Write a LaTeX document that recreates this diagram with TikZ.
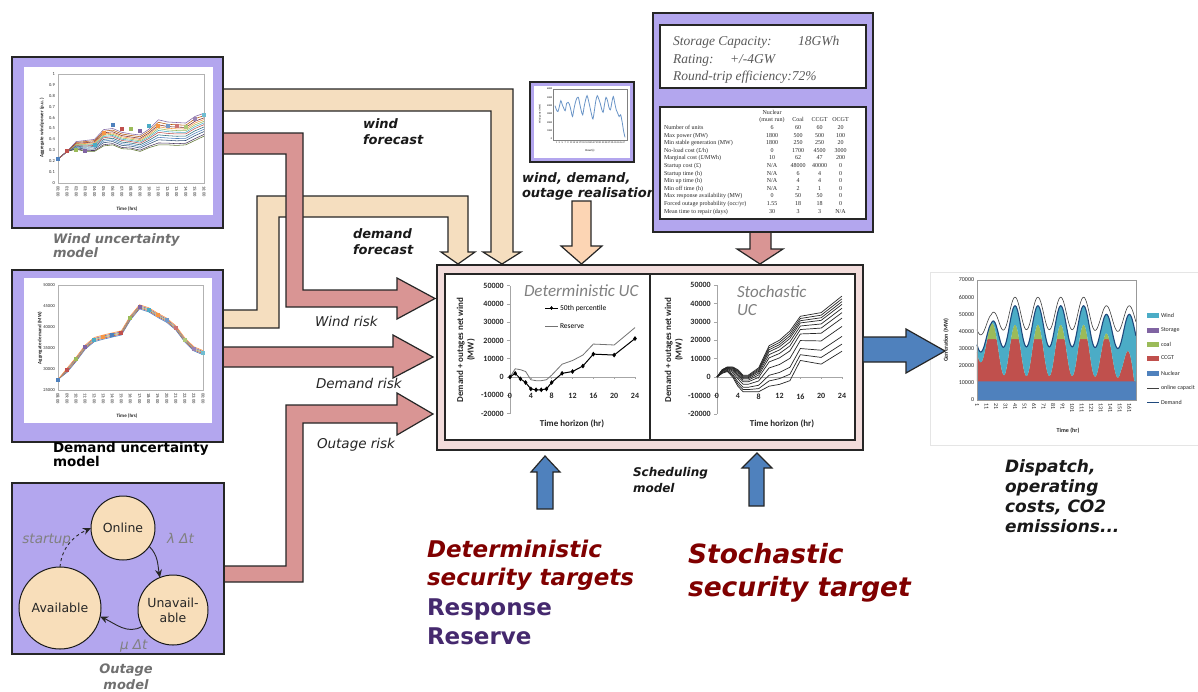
\documentclass[tikz,border=0pt]{standalone}
\usepackage{fontspec}
\usepackage{array}
\usetikzlibrary{arrows.meta,plotmarks}
\newfontfamily\dejavu{DejaVu Sans}[ItalicFont={DejaVu Sans Oblique},BoldFont={DejaVu Sans Bold},BoldItalicFont={DejaVu Sans Bold Oblique}]
\newfontfamily\carl{Carlito}
\newfontfamily\libser{Liberation Serif}
\definecolor{purp}{HTML}{B3A6EE}
\definecolor{beige}{HTML}{F5DEBF}
\definecolor{peach}{HTML}{FCD5B4}
\definecolor{pinkarr}{HTML}{D99594}
\definecolor{mainbox}{HTML}{F2DCDB}
\definecolor{circ}{HTML}{F8DEBA}
\definecolor{bluearr}{HTML}{4F81BD}
\definecolor{darkred}{HTML}{800000}
\definecolor{deeppurple}{HTML}{45296E}
\definecolor{capgray}{HTML}{707070}
\definecolor{pA}{HTML}{4F81BD}
\definecolor{pB}{HTML}{C0504D}
\definecolor{pC}{HTML}{9BBB59}
\definecolor{pD}{HTML}{8064A2}
\definecolor{pE}{HTML}{4BACC6}
\definecolor{pF}{HTML}{F79646}
\definecolor{pG}{HTML}{2C4D75}
\definecolor{pH}{HTML}{772C2A}
\definecolor{pI}{HTML}{5F7530}
\definecolor{pJ}{HTML}{4D3B62}
\definecolor{pK}{HTML}{276A7C}
\definecolor{pL}{HTML}{B65708}
\definecolor{pM}{HTML}{729ACA}
\definecolor{pN}{HTML}{CD7371}
\definecolor{pO}{HTML}{AFC97A}
\definecolor{pP}{HTML}{9983B5}
\definecolor{pQ}{HTML}{6FBDD1}
\definecolor{xlnavy}{HTML}{1F497D}
\begin{document}
\begin{tikzpicture}[x=1pt,y=-1pt,
  every node/.style={inner sep=0pt,outer sep=0pt},
  edge/.style={draw=black!85,line width=1.2pt,line join=miter},
  barr/.style={edge,fill=beige},
  parr/.style={edge,fill=pinkarr},
  blarr/.style={edge,fill=bluearr},
  bix/.style={font=\dejavu\bfseries\itshape\fontsize{13}{15}\selectfont,anchor=base west,text=black!90},
  riskl/.style={font=\dejavu\itshape\fontsize{13.5}{15}\selectfont,anchor=base west,text=black!85},
  capg/.style={font=\dejavu\bfseries\itshape\fontsize{13}{15}\selectfont,anchor=base west,text=capgray},
  state/.style={circle,draw=black!90,line width=1pt,fill=circ,font=\dejavu\fontsize{12.5}{15}\selectfont,text=black!85,align=center},
  gtxt/.style={font=\dejavu\itshape\fontsize{13.5}{15}\selectfont,text=black!50},
  smalltxt/.style={font=\carl\fontsize{4.5}{5}\selectfont,text=black!85},
  smallbold/.style={font=\carl\bfseries\fontsize{5}{6}\selectfont,text=black!85},
  chartnum/.style={font=\carl\bfseries\fontsize{8}{9}\selectfont,text=black!85},
  chartlab/.style={font=\carl\bfseries\fontsize{9}{10.5}\selectfont,text=black!85},
  ctitle/.style={font=\carl\itshape\fontsize{17}{19}\selectfont,text=black!50,anchor=base west},
  disp/.style={font=\carl\fontsize{6}{7}\selectfont,text=black!85},
  stor/.style={font=\libser\itshape\fontsize{13.5}{15}\selectfont,text=black!65,anchor=base west},
  bigdr/.style={font=\dejavu\bfseries\itshape\fontsize{23}{26}\selectfont,text=darkred,anchor=base west},
  bigpu/.style={font=\dejavu\bfseries\fontsize{23}{26}\selectfont,text=deeppurple,anchor=base west},
  bigst/.style={font=\dejavu\bfseries\itshape\fontsize{26.5}{30}\selectfont,text=darkred,anchor=base west},
  tip/.style={-{Stealth[length=8pt,width=7pt]}}
]
\useasboundingbox (0,0) rectangle (1198,691);
\fill[white] (0,0) rectangle (1198,691);

% ---------- block arrows ----------
\draw[barr] (215,89) -- (513,89) -- (513,252) -- (521,252) -- (502,264) -- (483,252) -- (491,252) -- (491,111) -- (215,111) -- cycle;
\draw[barr] (215,310) -- (257,310) -- (257,196) -- (468,196) -- (468,252) -- (475,252) -- (458,264) -- (441,252) -- (448,252) -- (448,217) -- (279,217) -- (279,328) -- (215,328) -- cycle;
\draw[parr] (215,133) -- (303,133) -- (303,290) -- (397,290) -- (397,278) -- (435,298.5) -- (397,319) -- (397,307) -- (286,307) -- (286,154) -- (215,154) -- cycle;
\draw[parr] (215,347) -- (393,347) -- (393,335) -- (433,357) -- (393,378) -- (393,367) -- (215,367) -- cycle;
\draw[parr] (215,566) -- (286,566) -- (286,405) -- (397,405) -- (397,393) -- (433,414) -- (397,435) -- (397,423) -- (303,423) -- (303,582) -- (215,582) -- cycle;
\draw[edge,fill=peach] (572,201) -- (591,201) -- (591,246) -- (602,246) -- (581.5,264) -- (561,246) -- (572,246) -- cycle;
\draw[parr] (750,228) -- (771,228) -- (771,249) -- (783,249) -- (760,264) -- (737,249) -- (750,249) -- cycle;
\draw[blarr] (537,509) -- (537,472) -- (531,472) -- (545,456) -- (560,472) -- (553,472) -- (553,509) -- cycle;
\draw[blarr] (749,506) -- (749,468) -- (742,468) -- (757,453) -- (772,468) -- (764,468) -- (764,506) -- cycle;

% ---------- arrow labels ----------
\node[bix] (wf1) at (363,128) {wind};
\node[bix] (wf2) at (363,144) {forecast};
\node[bix] (df1) at (353,238) {demand};
\node[bix] (df2) at (353,254) {forecast};
\node[riskl] (wr) at (315,326) {Wind risk};
\node[riskl] (dr) at (316,388) {Demand risk};
\node[riskl] (orisk) at (317,448) {Outage risk};
\node[bix] (rl1) at (522,182) {wind, demand,};
\node[bix] (rl2) at (522,197) {outage realisation};

% ---------- wind uncertainty model ----------
\draw[edge,fill=purp] (12,57) rectangle (223,228);
\fill[white] (24,67) rectangle (213,215);
\begin{scope}[shift={(58pt,-183pt)},x=9.125pt,y=109pt]
  \draw[gray!60,line width=0.4pt] (0,0) rectangle (16,1);
  \foreach \v in {0,0.1,0.2,0.3,0.4,0.5,0.6,0.7,0.8,0.9,1}
    \node[smalltxt,anchor=east] at (-0.35,\v) {\v};
  \foreach \h [count=\i from 0] in {00,01,02,03,04,05,06,07,08,09,10,11,12,13,14,15,16}
    \node[smalltxt,rotate=-90,anchor=west] at (\i,-0.03) {\h:00};
  \foreach \k/\c in {-1/pI,-0.85/pJ,-0.6/pG,-0.4/pA,-0.2/pK,0/pB,0.15/pE,0.3/pC,0.45/pF,0.6/pH,0.8/pL,1/pD}
    \draw[\c,line width=0.55pt] (0,0.22) \foreach \t/\m/\s in {1/0.29/0,2/0.345/0.035,3/0.34/0.05,4/0.345/0.055,5/0.415/0.075,6/0.425/0.075,7/0.39/0.075,8/0.38/0.07,9/0.365/0.075,10/0.41/0.085,11/0.465/0.115,12/0.455/0.105,13/0.45/0.105,14/0.45/0.1,15/0.5/0.11,16/0.535/0.105} { -- (\t,{\m+\k*\s}) };
  \foreach \t/\v/\c in {0/0.22/pA,1/0.29/pB,2/0.30/pC,3/0.29/pD,4/0.35/pE,5/0.46/pF,6/0.53/pA,7/0.50/pB,8/0.50/pC,9/0.48/pD,10/0.52/pE,11/0.52/pF,12/0.52/pM,13/0.52/pN,14/0.51/pO,15/0.59/pP,16/0.62/pQ}
    \node[fill=\c,minimum size=4pt] at (\t,\v) {};
\end{scope}
\node[smallbold] (wtime) at (127,209) {Time (hrs)};
\node[smallbold,rotate=90] (wylab) at (42,128) {Aggregate wind power (p.u.)};
\node[capg] (wc1) at (53,243) {Wind uncertainty};
\node[capg] (wc2) at (53,257) {model};

% ---------- demand uncertainty model ----------
\draw[edge,fill=purp] (12,270) rectangle (223,442);
\fill[white] (24,278) rectangle (212,423);
\begin{scope}[shift={(58pt,-390pt)},x=9.06pt,y=4.2pt]
  \draw[gray!60,line width=0.4pt] (0,0) rectangle (16,25);
  \foreach \v/\l in {0/25000,5/30000,10/35000,15/40000,20/45000,25/50000}
    \node[smalltxt,anchor=east] at (-0.35,\v) {\l};
  \foreach \h [count=\i from 0] in {08,09,10,11,12,13,14,15,16,17,18,19,20,21,22,23,00}
    \node[smalltxt,rotate=-90,anchor=west] at (\i,-0.8) {\h:00};
  \foreach \o/\c in {-0.5/pA,-0.25/pB,0/pC,0.25/pD,0.5/pF}
    \draw[\c,line width=0.6pt] (0,2.5) \foreach \t/\v in {1/29.7,2/32.3,3/35.2,4/37.0,5/37.6,6/38.1,7/38.6,8/42.2,9/44.8,10/44.1,11/42.8,12/41.6,13/39.8,14/36.9,15/34.8,16/33.9} { -- (\t,{\v-25+\o}) };
  \foreach \t/\v/\c in {0/27.5/pA,1/29.7/pB,2/32.3/pC,3/35.2/pD,4/37.0/pE,5/37.6/pF,6/38.1/pA,7/38.6/pB,8/42.2/pC,9/44.8/pD,10/44.1/pE,11/42.8/pF,12/41.6/pM,13/39.8/pN,14/36.9/pO,15/34.8/pP,16/33.9/pQ}
    \node[fill=\c,minimum size=4pt] at (\t,{\v-25}) {};
\end{scope}
\node[smallbold] (dtime) at (127,416) {Time (hrs)};
\node[smallbold,rotate=90] (dylab) at (40,338) {Aggregate demand (MW)};
\node[font=\dejavu\bfseries\fontsize{13.5}{15}\selectfont,anchor=base west] (dc1) at (53,452) {Demand uncertainty};
\node[font=\dejavu\bfseries\fontsize{13.5}{15}\selectfont,anchor=base west] (dc2) at (53,466) {model};

% ---------- outage model ----------
\draw[edge,fill=purp] (12,483) rectangle (224,654);
\node[state,minimum size=64pt] (online) at (123,528) {Online};
\node[state,minimum size=82pt] (avail) at (60,608) {Available};
\node[state,minimum size=70pt] (unav) at (173,610) {Unavail-\\able};
\draw[tip,dashed,line width=0.9pt,black!85] (avail.north) to[out=85,in=205] (online.west);
\draw[tip,line width=0.9pt,black!85] (online.-35) to[out=-45,in=100] (unav.112);
\draw[tip,line width=0.9pt,black!85] (unav.208) to[out=-150,in=-25] (avail.-12);
\node[gtxt,anchor=base east] (su) at (71,543) {startup};
\node[gtxt,anchor=base west] (lam) at (167,543) {λ Δt};
\node[gtxt,anchor=base west] (mu) at (120,649) {μ Δt};
\node[capg,anchor=base] (oc1) at (126,673) {Outage};
\node[capg,anchor=base] (oc2) at (126,689) {model};

% ---------- scheduling model ----------
\draw[edge,fill=mainbox] (437,265) rectangle (863,450);
\draw[edge,fill=white] (445,274) rectangle (650,440);
\draw[edge,fill=white] (650,274) rectangle (855,440);
\begin{scope}[shift={(510pt,-377pt)},x=5.208pt,y=1.83pt]
  \draw[gray!70,line width=0.5pt] (0,-20) -- (0,50);
  \foreach \v/\l in {50/50000,40/40000,30/30000,20/20000,10/10000,0/0,-10/-10000,-20/-20000}{
    \draw[gray!70,line width=0.5pt] (-0.6,\v) -- (0,\v);
    \node[chartnum,anchor=east] at (-1.2,\v) {\l};}
  \draw[gray!70,line width=0.5pt] (0,0) -- (24,0);
  \foreach \t in {0,4,...,24}{
    \draw[gray!70,line width=0.5pt] (\t,0) -- (\t,-1.2);
    \node[chartnum] at (\t,-10.5) {\t};}
  \draw[black!55,line width=0.8pt] (0,0) -- (1,4.5) -- (2,4) -- (3,3) -- (4,-1.5) -- (5,-2) -- (6,-2) -- (7,-1.5) -- (8,1) -- (10,7) -- (12,9) -- (14,12) -- (16,18) -- (20,17.5) -- (24,27);
  \draw[black,line width=1pt] plot[mark=diamond*,mark size=1.6pt] coordinates {(0,0) (1,2) (2,-1) (3,-3) (4,-6.5) (5,-7) (6,-7) (7,-6.5) (8,-3) (10,2) (12,3) (14,6) (16,12.5) (20,12) (24,21)};
\end{scope}
\node[ctitle] (dtitle) at (524,296) {Deterministic UC};
\draw[black,line width=1pt] (545,308) -- (558,308);
\path plot[mark=diamond*,mark size=1.6pt] coordinates {(551.5,308)};
\node[font=\carl\fontsize{7.5}{9}\selectfont,anchor=west] (lg1) at (560,308) {50th percentile};
\draw[black!55,line width=0.8pt] (545,326) -- (558,326);
\node[font=\carl\fontsize{7.5}{9}\selectfont,anchor=west] (lg2) at (560,326) {Reserve};
\node[chartlab,rotate=90,align=center] (dylab2) at (466,350) {Demand + outages net wind\\(MW)};
\node[chartlab] (dtx) at (572,424) {Time horizon (hr)};

\begin{scope}[shift={(717pt,-377pt)},x=5.208pt,y=1.84pt]
  \draw[gray!70,line width=0.5pt] (0,-20) -- (0,50);
  \foreach \v/\l in {50/50000,40/40000,30/30000,20/20000,10/10000,0/0,-10/-10000,-20/-20000}{
    \draw[gray!70,line width=0.5pt] (-0.6,\v) -- (0,\v);
    \node[chartnum,anchor=east] at (-1.2,\v) {\l};}
  \draw[gray!70,line width=0.5pt] (0,0) -- (24,0);
  \foreach \t in {0,4,...,24}{
    \draw[gray!70,line width=0.5pt] (\t,0) -- (\t,-1.2);
    \node[chartnum] at (\t,-10.5) {\t};}
  \foreach \w in {0,0.13,0.27,0.45,0.6,0.7,0.78,0.85,0.9,0.95,1}
    \draw[black!85,line width=0.7pt] (0,0) \foreach \t/\b/\u in {1/2/4,2/3/5.5,3/0/5.5,4/-5/4,5/-8/1,6/-8/1,8/-8/5,10/-5/17,12/-4/20,14/-2/25,16/9/33,20/7/35,24/14/44} { -- (\t,{\b+\w*(\u-\b)}) };
\end{scope}
\node[ctitle] (st1t) at (737,297) {Stochastic};
\node[ctitle] (st2t) at (737,315) {UC};
\node[chartlab,rotate=90,align=center] (sylab) at (674,350) {Demand + outages net wind\\(MW)};
\node[chartlab] (stx) at (782,424) {Time horizon (hr)};

% ---------- top small chart ----------
\draw[edge,fill=purp] (530,82) rectangle (634,162);
\fill[white] (534,86) rectangle (630,158);
\draw[gray,line width=0.8pt] (553,89) rectangle (627,140);
\begin{scope}[shift={(555pt,-139pt)},x=1.458pt,y=8.33pt]
  \draw[pA!85,line width=0.8pt] plot[smooth] coordinates {(0,4.0) (1,3.5) (2,3.3) (3,3.9) (4,4.6) (5,4.1) (6,3.7) (7,3.4) (8,4.3) (9,4.4) (10,4.1) (11,3.4) (12,2.7) (13,3.6) (14,4.4) (15,4.9) (16,5.0) (17,4.2) (18,3.4) (19,2.9) (20,3.9) (21,4.7) (22,5.2) (23,4.6) (24,3.8) (25,3.0) (26,2.4) (27,3.4) (28,4.6) (29,5.2) (30,4.8) (31,4.3) (32,3.6) (33,3.2) (34,4.2) (35,5.0) (36,4.6) (37,3.8) (38,3.5) (39,4.4) (40,5.1) (41,4.3) (42,3.5) (43,3.1) (44,2.7) (45,2.9) (46,2.1) (47,1.0) (48,0.2)};
  \foreach \v/\l in {0/0,1/1000,2/2000,3/3000,4/4000,5/5000,6/6000}
    \node[font=\carl\fontsize{2.5}{3}\selectfont,anchor=east] at (-2,\v) {\l};
  \foreach \t in {1,3,...,47}
    \node[font=\carl\fontsize{2.5}{3}\selectfont] at (\t,-0.5) {\t};
\end{scope}
\node[font=\carl\fontsize{3}{3.5}\selectfont] (hrs) at (590,151) {Hour(s)};
\node[font=\carl\fontsize{2.5}{3}\selectfont,rotate=90] (wpy) at (540,114) {Wind power (MW)};

% ---------- data table ----------
\draw[edge,fill=purp] (653,13) rectangle (873,232);
\draw[edge,fill=white] (660,25) rectangle (866,88);
\draw[edge,fill=white] (660,107) rectangle (866,219);
\node[stor] (sa) at (673,45) {Storage Capacity:};
\node[stor] (sb) at (798,45) {18GWh};
\node[stor] (sc) at (673,63) {Rating:};
\node[stor] (sd) at (730,63) {+/-4GW};
\node[stor] (se) at (673,80) {Round-trip efficiency:72\%};
\node[anchor=north west,font=\libser\fontsize{6}{7.6}\selectfont,text=black!85] (tbl) at (664,109) {%
\begin{tabular}{@{}w{l}{94pt}@{}w{c}{28pt}@{}w{c}{24pt}@{}w{c}{19pt}@{}w{c}{23pt}@{}}
 & Nuclear & & & \\
 & (must run) & Coal & CCGT & OCGT \\
Number of units & 6 & 60 & 60 & 20\\
Max power (MW) & 1800 & 500 & 500 & 100\\
Min stable generation (MW) & 1800 & 250 & 250 & 20\\
No-load cost (£/h) & 0 & 1700 & 4500 & 3000\\
Marginal cost (£/MWh) & 10 & 62 & 47 & 200\\
Startup cost (£) & N/A & 48000 & 40000 & 0\\
Startup time (h) & N/A & 6 & 4 & 0\\
Min up time (h) & N/A & 4 & 4 & 0\\
Min off time (h) & N/A & 2 & 1 & 0\\
Max response availability (MW) & 0 & 50 & 50 & 0\\
Forced outage probability (occ/yr) & 1.55 & 18 & 18 & 0\\
Mean time to repair (days) & 30 & 3 & 3 & N/A
\end{tabular}};

% ---------- dispatch chart ----------
\draw[gray!20,fill=white] (930,272) rectangle (1205,445);
\begin{scope}[shift={(976pt,-400pt)},x=0.952pt,y=1.714pt,
  declare function={
    rA(\x)=min(1,max(0,(\x-16)/14));
    rB(\x)=min(1,max(0,(\x-120)/12));
    dem(\x)=36.5+6.5*rA(\x)-3*rB(\x)+(8.5+3.5*rA(\x)-2*rB(\x))*cos(15*(\x-41));
    wnd(\x)=3+11*rA(\x)+3*cos(15*(\x-53))+20*max(0,(\x-152)/16);
    cg(\x)=max(10.8,min(35.5,dem(\x)-wnd(\x)));
    cl(\x)=max(cg(\x),dem(\x)-wnd(\x));
    cap(\x)=dem(\x)+7.5-2.5*cos(15*(\x-41));
  }]
  \fill[pA] (1,0) rectangle (168,10.8);
  \fill[pB] plot[domain=1:168,samples=168] (\x,{cg(\x)}) -- (168,10.8) -- (1,10.8) -- cycle;
  \fill[pC] plot[domain=1:168,samples=168] (\x,{cl(\x)}) -- plot[domain=168:1,samples=168] (\x,{cg(\x)}) -- cycle;
  \fill[pE] plot[domain=1:168,samples=168] (\x,{dem(\x)}) -- plot[domain=168:1,samples=168] (\x,{cl(\x)}) -- cycle;
  \draw[xlnavy,line width=1.1pt] plot[domain=1:168,samples=168] (\x,{dem(\x)});
  \draw[black!75,line width=0.6pt] plot[domain=1:168,samples=168] (\x,{cap(\x)});
  \draw[gray!80,line width=0.5pt] (1,0) rectangle (168,70);
  \foreach \v/\l in {0/0,10/10000,20/20000,30/30000,40/40000,50/50000,60/60000,70/70000}
    \node[disp,anchor=east] at (-2,\v) {\l};
  \foreach \t in {1,11,...,161}
    \node[disp,rotate=-90,anchor=west] at (\t,-2) {\t};
\end{scope}
\node[disp,font=\carl\bfseries\fontsize{6}{7}\selectfont] (gtime) at (1068,431) {Time (hr)};
\node[disp,font=\carl\bfseries\fontsize{6}{7}\selectfont,rotate=90] (gylab) at (946,340) {Generation (MW)};
\foreach \yy/\cc/\ll in {315/pE/Wind,330/pD/Storage,344/pC/coal,358/pB/CCGT,373/pA/Nuclear}{
  \fill[\cc] (1147,\yy-2.5) rectangle (1159,\yy+2.5);
  \node[disp,anchor=west] at (1161,\yy) {\ll};}
\draw[black!75,line width=0.6pt] (1147,388) -- (1159,388);
\node[disp,anchor=west] (lgcap) at (1161,388) {online capacit};
\draw[xlnavy,line width=0.8pt] (1147,402) -- (1159,402);
\node[disp,anchor=west] (lgdem) at (1161,402) {Demand};

% blue arrow to dispatch
\draw[blarr] (863,337) -- (906,337) -- (906,329) -- (945,351) -- (906,373) -- (906,362) -- (863,362) -- cycle;

% ---------- bottom texts ----------
\node[bix,font=\dejavu\bfseries\itshape\fontsize{12}{14}\selectfont] (sch1) at (633,476) {Scheduling};
\node[bix,font=\dejavu\bfseries\itshape\fontsize{12}{14}\selectfont] (sch2) at (633,492) {model};
\node[bigdr] (det1) at (427,557) {Deterministic};
\node[bigdr] (det2) at (427,585) {security targets};
\node[bigpu] (resp) at (427,615) {Response};
\node[bigpu] (resv) at (427,644) {Reserve};
\node[bigst] (sto1) at (688,563) {Stochastic};
\node[bigst] (sto2) at (688,596) {security target};
\node[bix,font=\dejavu\bfseries\itshape\fontsize{17}{20}\selectfont] (dp1) at (1005,472) {Dispatch,};
\node[bix,font=\dejavu\bfseries\itshape\fontsize{17}{20}\selectfont] (dp2) at (1005,492) {operating};
\node[bix,font=\dejavu\bfseries\itshape\fontsize{17}{20}\selectfont] (dp3) at (1005,512) {costs, CO2};
\node[bix,font=\dejavu\bfseries\itshape\fontsize{17}{20}\selectfont] (dp4) at (1005,532) {emissions...};
\end{tikzpicture}
\end{document}
